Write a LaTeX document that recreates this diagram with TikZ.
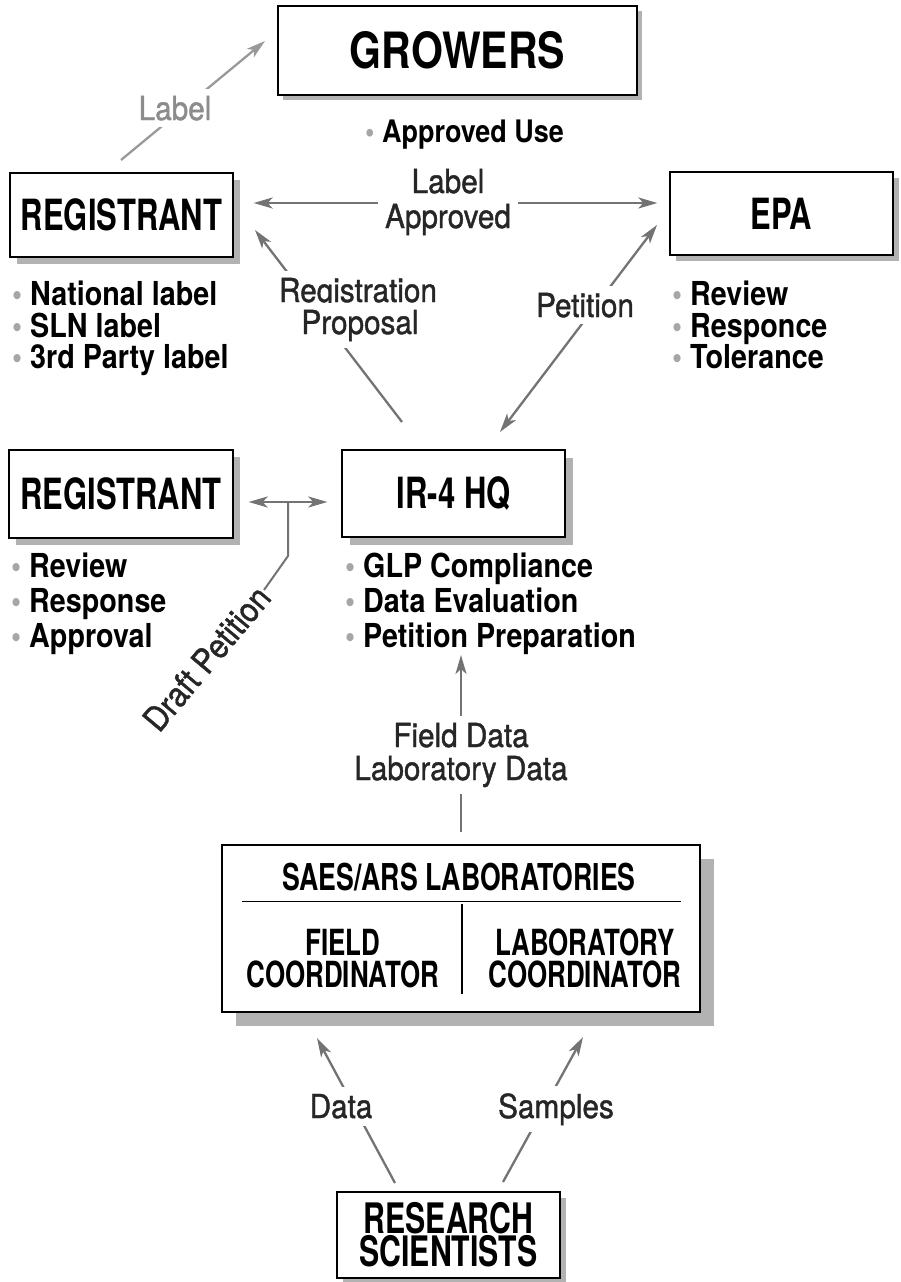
\documentclass[tikz,border=0pt]{standalone}
\usepackage{fontspec}
\setmainfont{TeX Gyre Heros}
\newfontfamily\fcaps[FakeStretch=0.72]{TeX Gyre Heros}
\newfontfamily\fbig[FakeStretch=0.82]{TeX Gyre Heros}
\newfontfamily\ftxt[FakeStretch=0.87]{TeX Gyre Heros}
\newfontfamily\flbl[FakeStretch=0.9,FakeBold=1.2]{TeX Gyre Heros}
\usetikzlibrary{arrows.meta,shadows,calc}
\newcommand\mybul{{\color{gray!70}\textbullet}\ }
\begin{document}
\begin{tikzpicture}[x=1pt,y=-1pt,
  >={Stealth[length=19pt,width=11pt,inset=5pt]},
  boxn/.style={draw=black, line width=1.3pt, fill=white, inner sep=0pt, align=center},
  shad/.style={drop shadow={shadow xshift=#1, shadow yshift=-#1, fill=gray!60, opacity=1}},
  capfont/.style={font=\fcaps\bfseries\fontsize{43pt}{43pt}\selectfont},
  bul/.style={anchor=base west, inner sep=0pt, font=\ftxt\bfseries\fontsize{33pt}{33pt}\selectfont},
  lbl/.style={anchor=base, fill=white, inner sep=7pt, text=black!85, font=\flbl\fontsize{33pt}{33pt}\selectfont},
  arr/.style={draw=black!55, line width=2.3pt, ->},
  darr/.style={draw=black!55, line width=2.3pt, <->},
  plain/.style={draw=black!55, line width=2pt},
  rule/.style={draw=black, line width=1.3pt}
]
\useasboundingbox (0,0) rectangle (901,1282);

% boxes
\node[boxn, shad=5pt, minimum width=359pt, minimum height=89pt,
      font=\fbig\bfseries\fontsize{50pt}{50pt}\selectfont] (grw) at (457.5,50.5) {GROWERS};
\node[boxn, shad=7pt, minimum width=223pt, minimum height=84pt, capfont] (reg1) at (121.5,215) {REGISTRANT};
\node[boxn, shad=6pt, minimum width=223pt, minimum height=83pt, capfont] (epa) at (781.5,213.5) {EPA};
\node[boxn, shad=7pt, minimum width=224pt, minimum height=88pt, capfont] (reg2) at (121,494) {REGISTRANT};
\node[boxn, shad=8pt, minimum width=223pt, minimum height=87pt, capfont] (ir4) at (453.5,493.5) {IR-4 HQ};
\node[boxn, shad=14pt, minimum width=478pt, minimum height=167pt] (saes) at (461,928.5) {};
\node[boxn, shad=6pt, minimum width=223pt, minimum height=86pt,
      font=\fcaps\bfseries\fontsize{42pt}{33pt}\selectfont] (rs) at (448.5,1235) {RESEARCH\\SCIENTISTS};

% SAES interior
\node[anchor=base, inner sep=0pt, font=\fcaps\bfseries\fontsize{37pt}{37pt}\selectfont] (saest) at (459,890) {SAES/ARS LABORATORIES};
\coordinate (rl) at ($(saes.north west)+(21,57)$);
\coordinate (rr) at ($(saes.north east)+(-20,57)$);
\coordinate (vt) at ($(saes.north)+(1,60)$);
\coordinate (vb) at ($(saes.north)+(1,150)$);
\draw[rule] (rl) -- (rr);
\draw[rule] (vt) -- (vb);
\node[anchor=base, inner sep=0pt, font=\fcaps\bfseries\fontsize{36pt}{36pt}\selectfont] (fc1) at (343,955) {FIELD};
\node[anchor=base, inner sep=0pt, font=\fcaps\bfseries\fontsize{36pt}{36pt}\selectfont] (fc2) at (343,987) {COORDINATOR};
\node[anchor=base, inner sep=0pt, font=\fcaps\bfseries\fontsize{36pt}{36pt}\selectfont] (lc1) at (585,955) {LABORATORY};
\node[anchor=base, inner sep=0pt, font=\fcaps\bfseries\fontsize{36pt}{36pt}\selectfont] (lc2) at (585,987) {COORDINATOR};

% bullet lists
\node[bul, font=\ftxt\bfseries\fontsize{31pt}{31pt}\selectfont] (au) at (365,142) {\mybul Approved Use};
\node[bul] (r1a) at (12,305) {\mybul National label};
\node[bul] (r1b) at (12,337) {\mybul SLN label};
\node[bul] (r1c) at (12,368) {\mybul 3rd Party label};
\node[bul] (e1) at (672,305) {\mybul Review};
\node[bul] (e2) at (672,337) {\mybul Responce};
\node[bul] (e3) at (672,368) {\mybul Tolerance};
\node[bul] (r2a) at (11,577) {\mybul Review};
\node[bul] (r2b) at (11,612) {\mybul Response};
\node[bul] (r2c) at (11,647) {\mybul Approval};
\node[bul] (i1) at (345,577) {\mybul GLP Compliance};
\node[bul] (i2) at (345,612) {\mybul Data Evaluation};
\node[bul] (i3) at (345,647) {\mybul Petition Preparation};

% connector end points
\coordinate (la1) at (121,160);
\coordinate (la2) at (265,41);
\coordinate (hy) at (0,203);
\coordinate (rp1) at (402,422);
\coordinate (rp2) at (255,230);
\coordinate (pt1) at (500,432);
\coordinate (pt2) at (657,225);
\coordinate (dy) at (0,502);
\coordinate (dj) at (288,502);
\coordinate (dk) at (288,556);
\coordinate (fd2) at (461,655);
\coordinate (dt1) at (395,1183);
\coordinate (dt2) at (317,1038);
\coordinate (sm1) at (503,1182);
\coordinate (sm2) at (583,1037);

% connectors
\draw[arr, draw=black!40] (la1) -- (la2);
\draw[darr, shorten <=20pt, shorten >=12pt] (reg1.east |- hy) -- (epa.west |- hy);
\draw[arr] (rp1) -- (rp2);
\draw[darr] (pt1) -- (pt2);
\draw[darr, shorten <=15pt, shorten >=14pt] (reg2.east |- dy) -- (ir4.west |- dy);
\draw[arr, shorten <=12pt] (saes.north) -- (fd2);
\draw[arr] (dt1) -- (dt2);
\draw[arr] (sm1) -- (sm2);

% labels
\node[lbl, text=black!45] (lbl0) at (175,120) {Label};
\node[lbl] (lbl1) at (448,193) {Label};
\node[lbl] (lbl2) at (448,228) {Approved};
\node[lbl] (rg1) at (358,302) {Registration};
\node[lbl] (rg2) at (360,334) {Proposal};
\node[lbl] (pet) at (585,317) {Petition};
\node[lbl] (fd) at (461,747) {Field Data};
\node[lbl] (ld) at (461,780) {Laboratory Data};
\node[lbl] (dat) at (341,1118) {Data};
\node[lbl] (smp) at (556,1118) {Samples};
\node[rotate=50, anchor=east, inner sep=1pt, text=black!85,
      font=\flbl\fontsize{34pt}{34pt}\selectfont] (dpt) at (264,590) {Draft Petition};
\draw[plain, line join=round] (dj) -- (dk) -- (dpt.east);
\end{tikzpicture}
\end{document}
